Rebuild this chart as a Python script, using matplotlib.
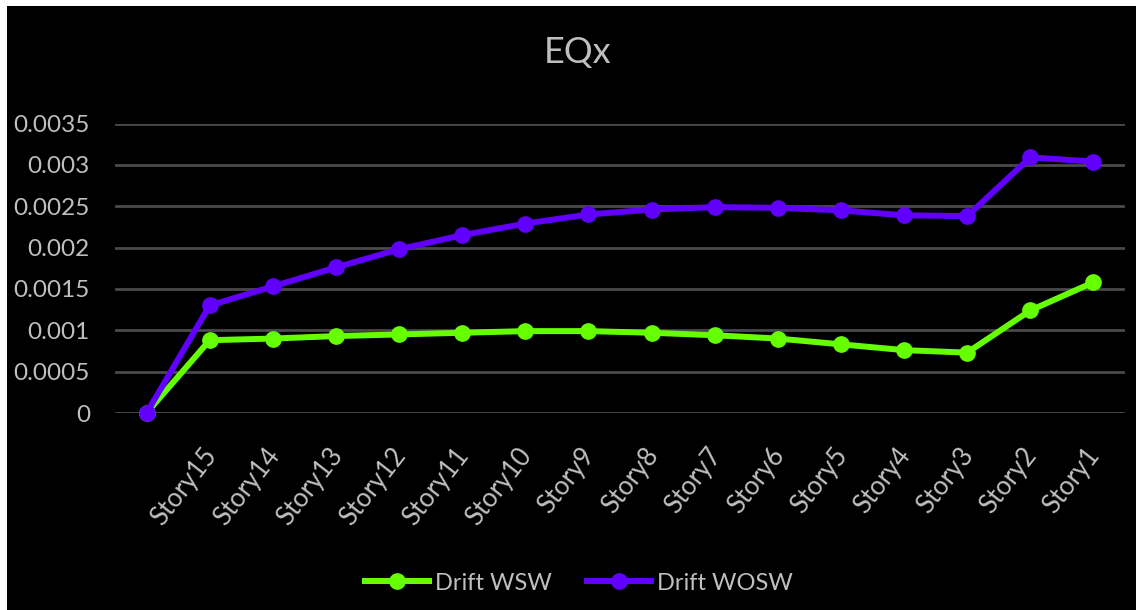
import matplotlib
matplotlib.use("Agg")
import matplotlib.pyplot as plt
from matplotlib.patches import Rectangle
from matplotlib.transforms import ScaledTranslation

# Storey drift under EQx, with and without shear walls
stories = ["", "Story15", "Story14", "Story13", "Story12", "Story11", "Story10",
           "Story9", "Story8", "Story7", "Story6", "Story5", "Story4",
           "Story3", "Story2", "Story1"]
drift_wsw = [0.0, 0.00088, 0.0009, 0.00093, 0.00095, 0.00097, 0.00099,
             0.00099, 0.00097, 0.00094, 0.0009, 0.00083, 0.00076,
             0.00073, 0.00124, 0.00158]
drift_wosw = [0.0, 0.0013, 0.00153, 0.00176, 0.00198, 0.00215, 0.00229,
              0.0024, 0.00246, 0.00249, 0.00248, 0.00245, 0.00239,
              0.00238, 0.00309, 0.00304]
y_ticks = [0, 0.0005, 0.001, 0.0015, 0.002, 0.0025, 0.003, 0.0035]
y_tick_labels = ["0", "0.0005", "0.001", "0.0015", "0.002", "0.0025", "0.003", "0.0035"]

W, H = 1136, 610
fig = plt.figure(figsize=(W / 100, H / 100), dpi=100, facecolor="white")
fig.patches.append(Rectangle((7 / W, 0), 1 - 7 / W + 0.01, 1 - 6 / H,
                             transform=fig.transFigure, facecolor="black",
                             edgecolor="none", zorder=-10))

ax = fig.add_axes([115 / W, 1 - 413 / H, (1125 - 115) / W, (413 - 123.5) / H])
ax.set_zorder(1)
ax.set_facecolor("black")
for s in ax.spines.values():
    s.set_visible(False)

font = "Lato"
txt_color = "#bfbfbf"
grid_color = "#4a4a4a"

x = list(range(len(stories)))
ax.set_xlim(-0.5, len(stories) - 0.5)
ax.set_ylim(0, 0.0035)
ax.set_yticks(y_ticks)
ax.set_yticklabels(y_tick_labels)
ax.grid(axis="y", color=grid_color, linewidth=2)
ax.set_axisbelow(True)

ax.plot(x, drift_wsw, color="#66ff00", linewidth=4.3, marker="o",
        markersize=11, label="Drift WSW", clip_on=False, zorder=3)
ax.plot(x, drift_wosw, color="#6200ff", linewidth=4.3, marker="o",
        markersize=11, label="Drift WOSW", clip_on=False, zorder=4)

ax.tick_params(axis="y", length=0, pad=18, labelsize=17.5, labelcolor=txt_color)
ax.tick_params(axis="x", length=0, pad=22, labelsize=18.5, labelcolor=txt_color)
for lab in ax.get_yticklabels():
    lab.set_fontfamily(font)

ax.set_xticks(x)
ax.set_xticklabels(stories, rotation=52, ha="right", va="top",
                   rotation_mode="anchor", fontfamily=font)
shift = ScaledTranslation(-8 / 100, 0, fig.dpi_scale_trans)
for lab in ax.get_xticklabels():
    lab.set_transform(lab.get_transform() + shift)

fig.text(578 / W, 1 - 52 / H, "EQx", ha="center", va="center",
         fontsize=26, color=txt_color, fontfamily=font)

leg = fig.legend(loc="center", bbox_to_anchor=(579 / W, 1 - 583 / H), ncol=2,
                 frameon=False, handlelength=2.7,
                 handletextpad=0.25, columnspacing=1.5,
                 prop={"family": font, "size": 17})
for t in leg.get_texts():
    t.set_color(txt_color)

fig.savefig("out.png", dpi=100, facecolor=fig.get_facecolor())
